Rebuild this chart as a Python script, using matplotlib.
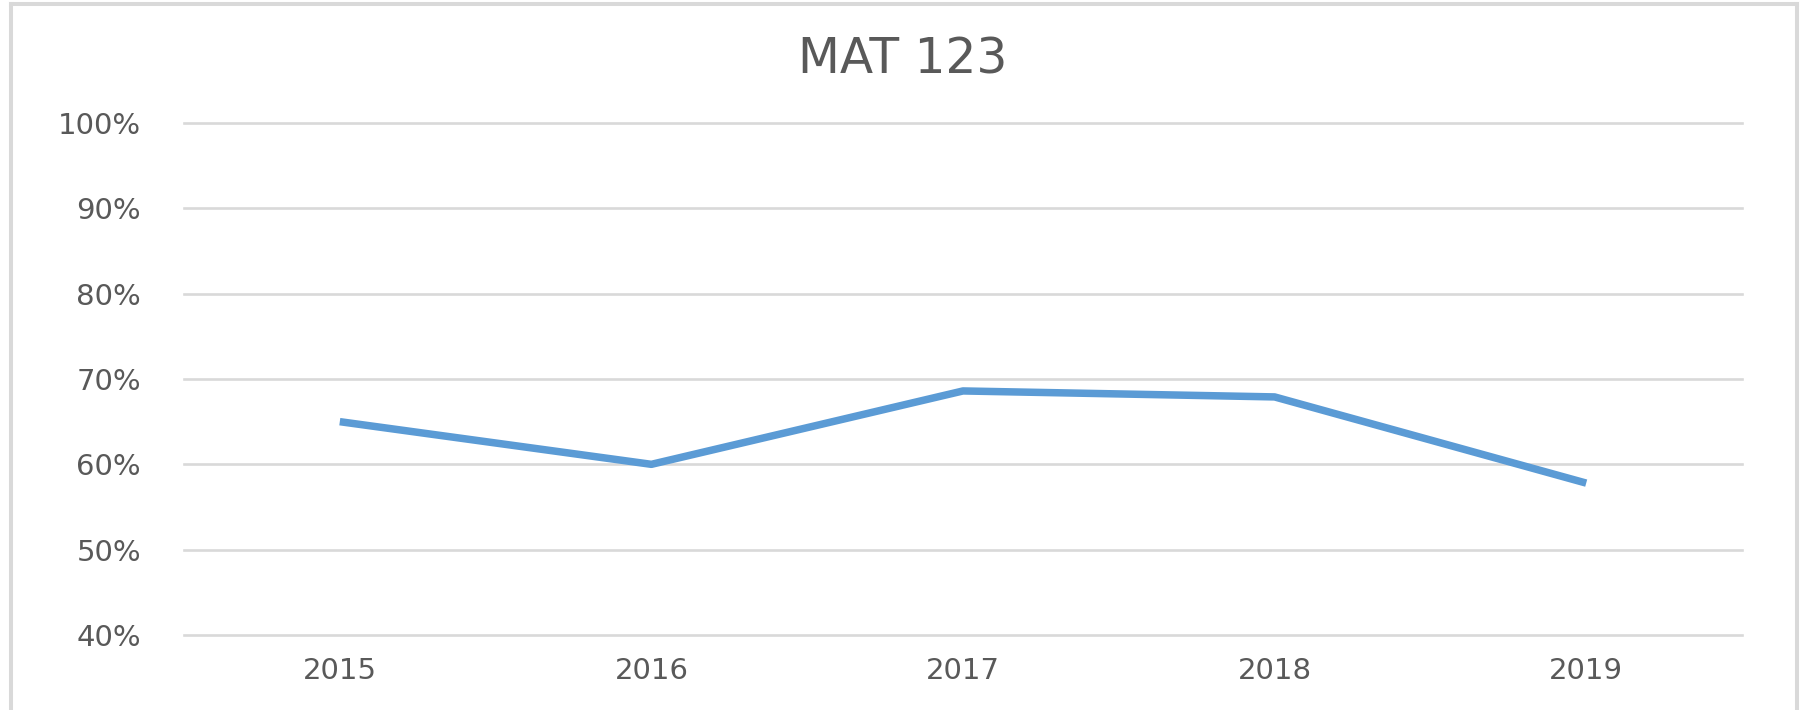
import matplotlib
matplotlib.use("Agg")
import matplotlib.pyplot as plt
from matplotlib.lines import Line2D
from matplotlib.ticker import FuncFormatter

title = "MAT 123"
years = ["2015", "2016", "2017", "2018", "2019"]
pass_rate = [65.0, 60.0, 68.6, 67.9, 57.8]
y_ticks = [40, 50, 60, 70, 80, 90, 100]

W, H, DPI = 1805, 710, 100
fig = plt.figure(figsize=(W / DPI, H / DPI), dpi=DPI)
fig.patch.set_facecolor("white")

left, right = 184 / W, 1742 / W
bottom, top = 1 - 635 / H, 1 - 123 / H
ax = fig.add_axes([left, bottom, right - left, top - bottom])

x = list(range(len(years)))
ax.plot(x, pass_rate, color="#5B9BD5", linewidth=5.4,
        solid_capstyle="butt", solid_joinstyle="round", zorder=3)

ax.set_xlim(-0.5, len(years) - 0.5)
ax.set_ylim(40, 100)
ax.set_yticks(y_ticks)
ax.yaxis.set_major_formatter(FuncFormatter(lambda v, p: f"{v:.0f}%"))
ax.set_xticks(x)
ax.set_xticklabels(years)

ax.grid(axis="y", color="#D9D9D9", linewidth=1.9, zorder=0)
ax.grid(axis="x", visible=False)
for gl in ax.get_ygridlines():
    gl.set_clip_on(False)
for s in ax.spines.values():
    s.set_visible(False)
ax.tick_params(axis="both", length=0, labelsize=21, labelcolor="#595959")
ax.tick_params(axis="y", pad=31)
ax.tick_params(axis="x", pad=16)
ax.set_axisbelow(True)

fig.text(0.5, 1 - 60 / H, title, ha="center", va="center",
         fontsize=35, color="#595959")

# chart frame (top, left, right)
bc = "#D9D9D9"
lw = 2.9
fig.add_artist(Line2D([10.5 / W, 10.5 / W], [0, 1 - 4 / H], color=bc, lw=lw,
                      transform=fig.transFigure))
fig.add_artist(Line2D([1797 / W, 1797 / W], [0, 1 - 4 / H], color=bc, lw=lw,
                      transform=fig.transFigure))
fig.add_artist(Line2D([10.5 / W, 1797 / W], [1 - 4 / H, 1 - 4 / H], color=bc, lw=lw,
                      transform=fig.transFigure))

fig.savefig("out.png", dpi=DPI, facecolor="white")
